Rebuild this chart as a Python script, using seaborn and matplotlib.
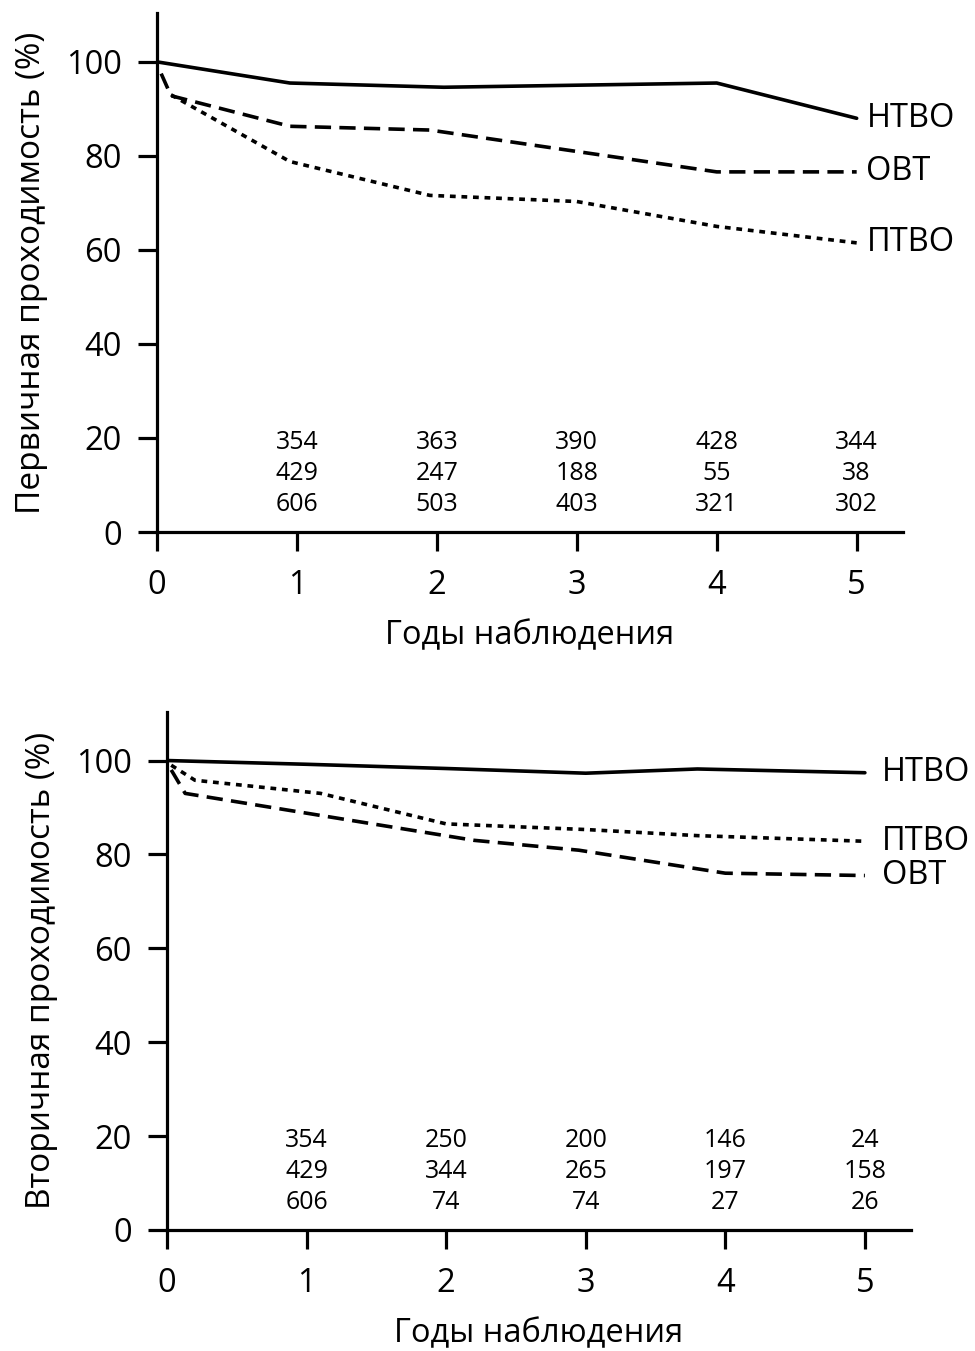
import numpy as np
import pandas as pd
import seaborn as sns
import matplotlib.pyplot as plt

# Primary patency (top panel)
top_ntbo_x = [0, 0.95, 2.05, 4.0, 5.0]
top_ntbo_y = [100, 95.5, 94.6, 95.5, 88.0]
top_ovt_x = [0.03, 0.1, 0.95, 1.95, 4.0, 5.0]
top_ovt_y = [97.5, 92.8, 86.3, 85.5, 76.6, 76.6]
top_ptvo_x = [0.1, 0.95, 1.95, 3.0, 4.0, 5.0]
top_ptvo_y = [93.0, 78.8, 71.6, 70.3, 65.0, 61.5]

# Secondary patency (bottom panel)
bot_ntbo_x = [0, 1.0, 2.0, 3.0, 3.8, 5.0]
bot_ntbo_y = [100, 99.2, 98.3, 97.3, 98.2, 97.4]
bot_ptvo_x = [0.03, 0.2, 1.1, 2.0, 3.0, 3.8, 5.0]
bot_ptvo_y = [99.0, 95.8, 93.0, 86.5, 85.3, 84.0, 82.8]
bot_ovt_x = [0.03, 0.13, 1.1, 2.2, 2.95, 4.0, 5.0]
bot_ovt_y = [98.0, 93.0, 88.3, 83.0, 80.9, 76.0, 75.5]

# numbers at risk under each year mark
risk_years = [1, 2, 3, 4, 5]
top_risk = [
    [354, 363, 390, 428, 344],
    [429, 247, 188, 55, 38],
    [606, 503, 403, 321, 302],
]
bot_risk = [
    [354, 250, 200, 146, 24],
    [429, 344, 265, 197, 158],
    [606, 74, 74, 27, 26],
]

groups = ["НТВО", "ОВТ", "ПТВО"]
dashes = {"НТВО": "", "ОВТ": (4.5, 2.3), "ПТВО": (1.6, 1.6)}


def to_long(series):
    rows = []
    for name, xs, ys in series:
        for x, y in zip(xs, ys):
            rows.append({"year": x, "value": y, "group": name})
    return pd.DataFrame(rows)


def draw_panel(ax, df, risk, ylabel, label_x):
    sns.lineplot(data=df, x="year", y="value", style="group",
                 style_order=groups, dashes=dashes, color="black",
                 lw=2.6, legend=False, ax=ax, estimator=None, sort=True)
    ax.set_xlim(0, 5.33)
    ax.set_ylim(0, 110.4)
    ax.set_xticks([0, 1, 2, 3, 4, 5])
    ax.set_yticks([0, 20, 40, 60, 80, 100])
    sns.despine(ax=ax)
    for side in ["left", "bottom"]:
        ax.spines[side].set_linewidth(2.3)
        ax.spines[side].set_color("black")
    ax.tick_params(axis="both", direction="out", length=13.5, width=2.3,
                   labelsize=23.5, colors="black")
    ax.tick_params(axis="y", pad=12)
    ax.tick_params(axis="x", pad=13)
    ax.set_xlabel("Годы наблюдения", fontsize=23.5, labelpad=12.5)
    ax.set_ylabel(ylabel, fontsize=24, labelpad=13)

    # end labels
    for name in groups:
        last = df[df["group"] == name].sort_values("year").iloc[-1]
        ax.text(label_x, last["value"], name, fontsize=23.5,
                va="center", ha="left")

    # numbers at risk
    for row, ypos in zip(risk, [19.0, 12.4, 5.8]):
        for yr, n in zip(risk_years, row):
            ax.text(yr, ypos, str(n), fontsize=18, ha="center",
                    va="center")


sns.set_theme(style="ticks")
plt.rcParams["font.family"] = ["Open Sans", "DejaVu Sans"]
plt.rcParams["text.color"] = "black"
plt.rcParams["axes.labelcolor"] = "black"

fig = plt.figure(figsize=(9.75, 13.51), dpi=100)
ax1 = fig.add_axes([0.161, 0.6062, 0.765, 0.3842])
ax2 = fig.add_axes([0.1713, 0.0896, 0.763, 0.3836])

top_df = to_long([
    ("НТВО", top_ntbo_x, top_ntbo_y),
    ("ОВТ", top_ovt_x, top_ovt_y),
    ("ПТВО", top_ptvo_x, top_ptvo_y),
])
bot_df = to_long([
    ("НТВО", bot_ntbo_x, bot_ntbo_y),
    ("ОВТ", bot_ovt_x, bot_ovt_y),
    ("ПТВО", bot_ptvo_x, bot_ptvo_y),
])

draw_panel(ax1, top_df, top_risk, "Первичная проходимость (%)", 5.07)
draw_panel(ax2, bot_df, bot_risk, "Вторичная проходимость (%)", 5.12)

fig.savefig("out.png", dpi=100, facecolor="white")
